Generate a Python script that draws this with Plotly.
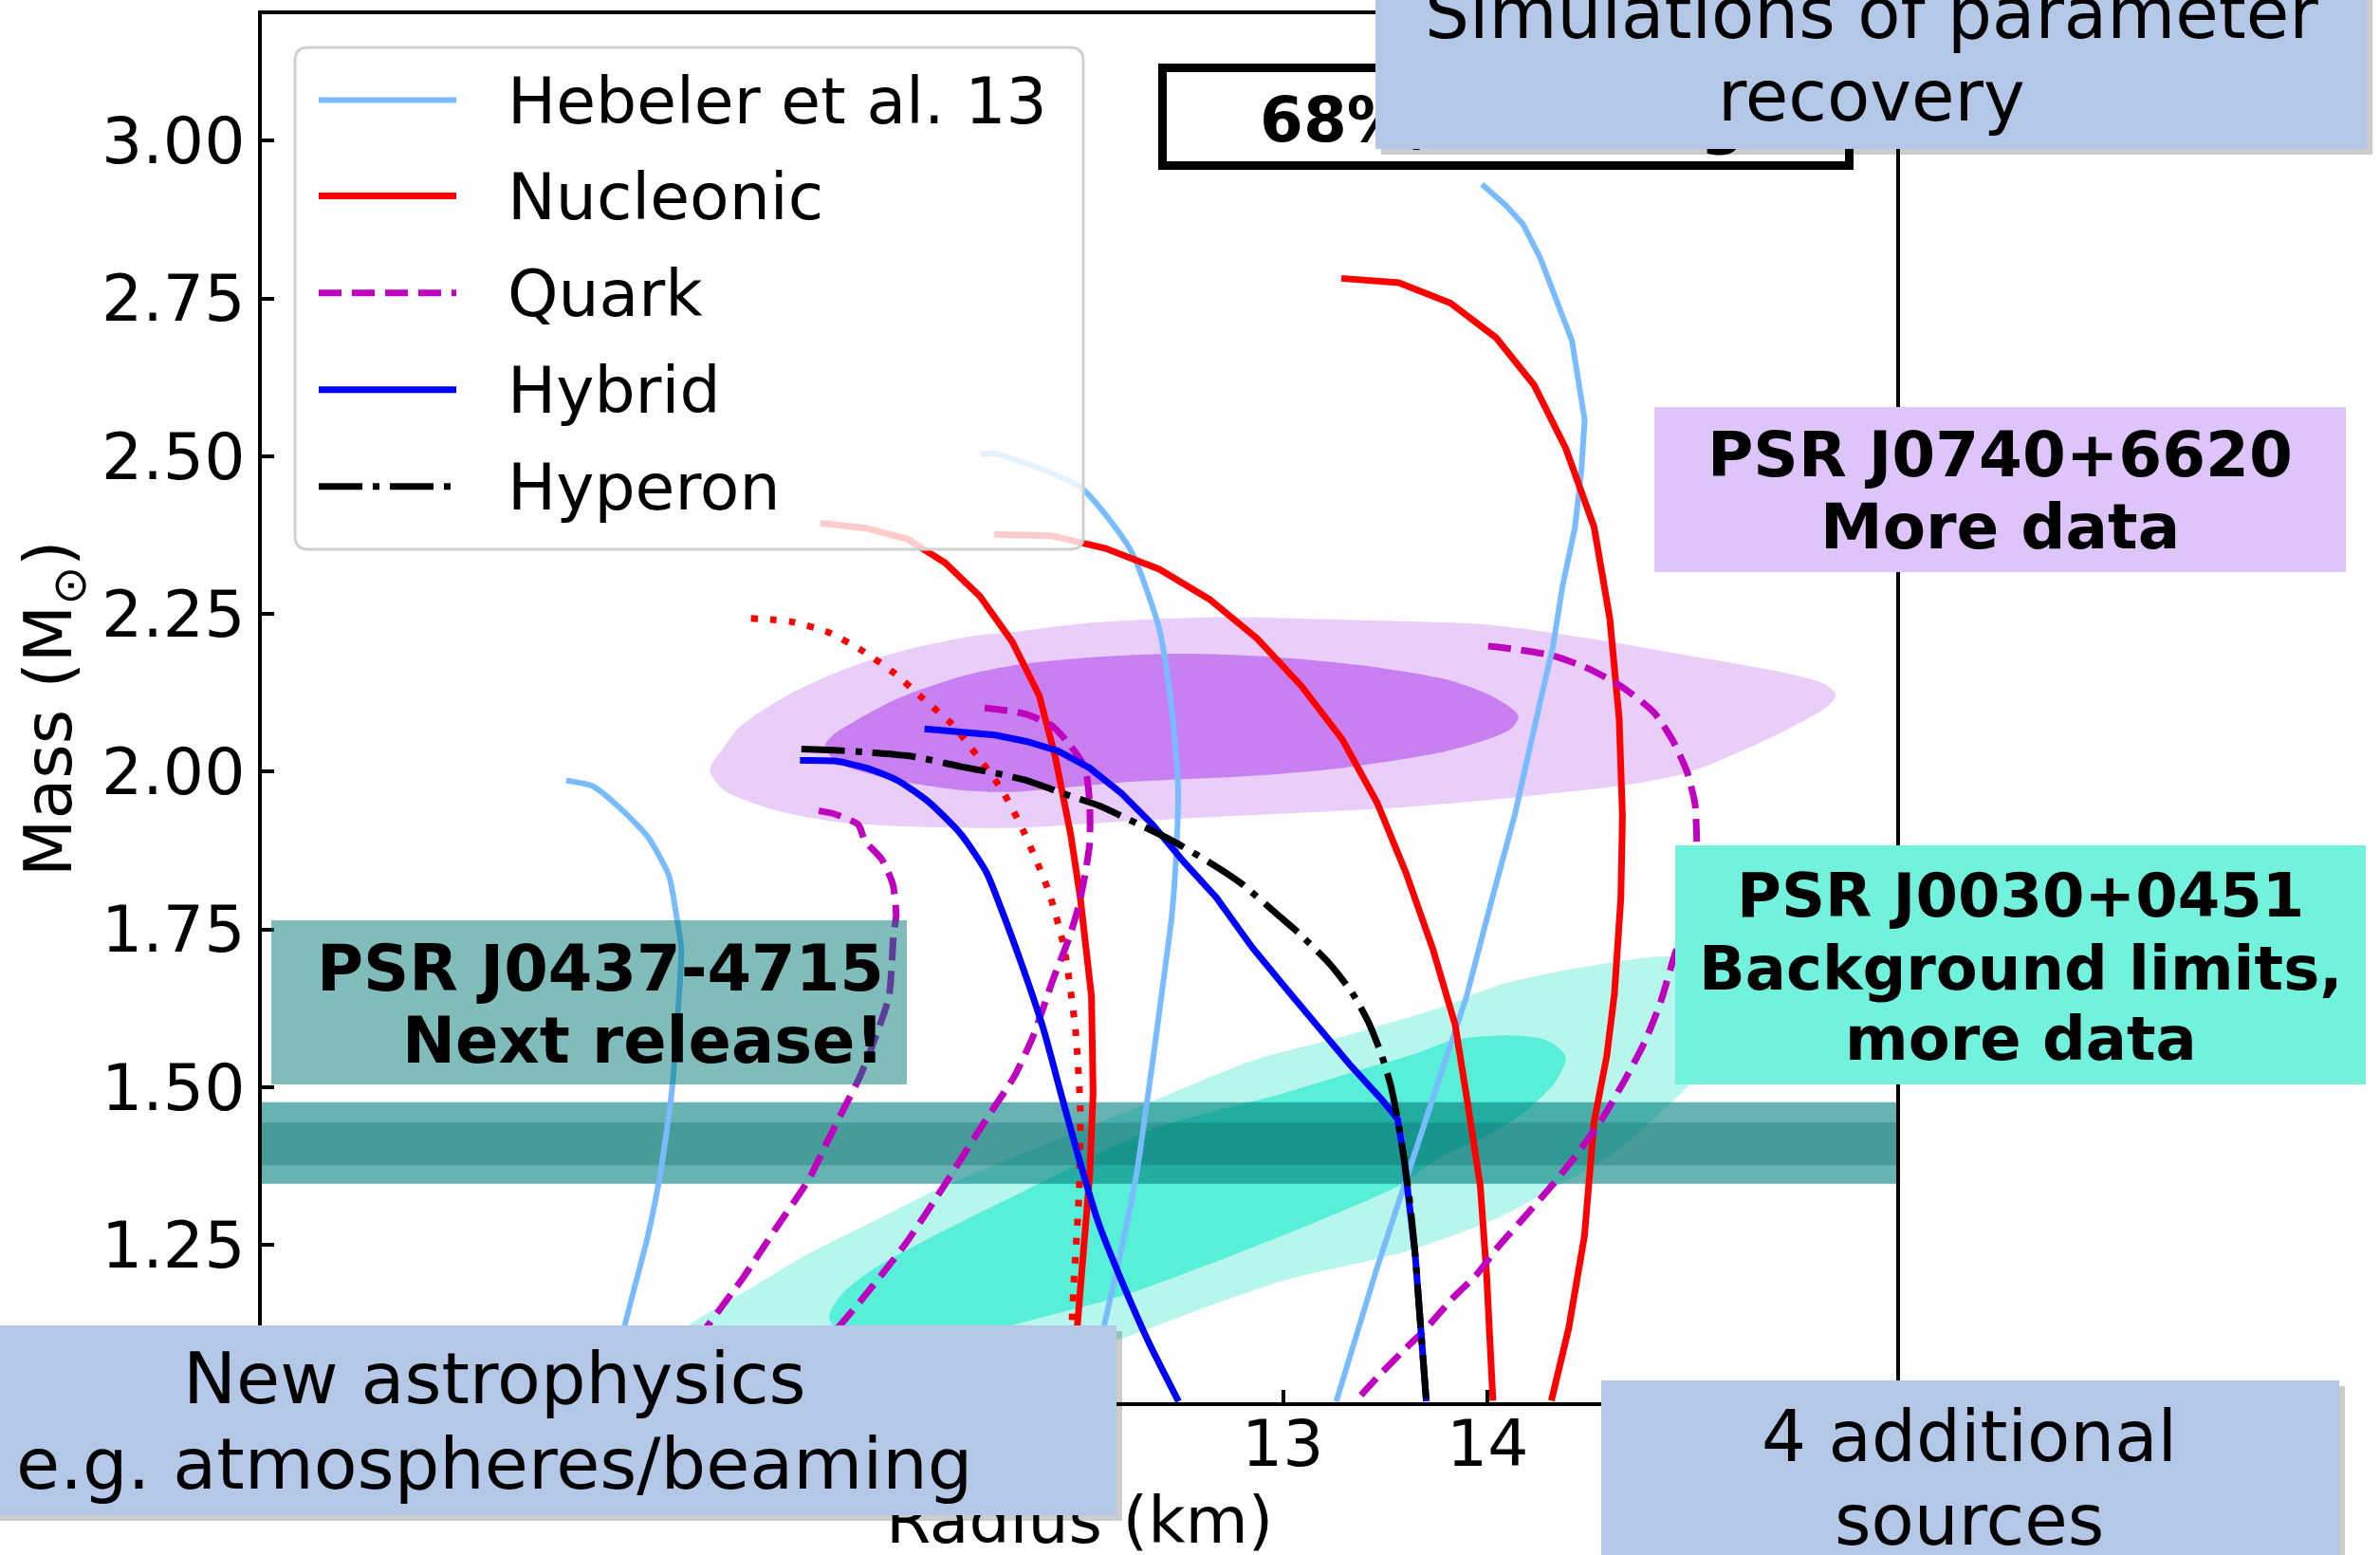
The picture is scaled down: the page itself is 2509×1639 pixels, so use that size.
import plotly.graph_objects as go

W, H = 2509, 1639
FONT = "DejaVu Sans"

# ---------------- data (Radius km, Mass Msun) ----------------
heb_soft_R = [9.490, 9.621, 9.768, 9.891, 9.992, 10.030, 10.053, 10.037, 10.006, 9.951, 9.888, 9.778, 9.700]
heb_soft_M = [1.986, 1.977, 1.938, 1.896, 1.836, 1.771, 1.720, 1.619, 1.491, 1.364, 1.262, 1.124, 1.000]
heb_mid_R = [11.518, 11.588, 12.006, 12.253, 12.393, 12.454, 12.485, 12.477, 12.454, 12.424, 12.361, 12.282, 12.203, 12.124, 12.036]
heb_mid_M = [2.503, 2.504, 2.451, 2.351, 2.226, 2.101, 1.976, 1.876, 1.771, 1.695, 1.542, 1.364, 1.236, 1.124, 1.000]
heb_stiff_R = [13.972, 14.088, 14.173, 14.258, 14.413, 14.475, 14.459, 14.428, 14.366, 14.320, 14.235, 14.134, 14.018, 13.897, 13.637, 13.456, 13.259]
heb_stiff_M = [2.931, 2.898, 2.868, 2.814, 2.683, 2.558, 2.478, 2.388, 2.293, 2.199, 2.079, 1.933, 1.794, 1.644, 1.389, 1.211, 1.002]

nuc1_R = [10.734, 10.958, 11.159, 11.345, 11.515, 11.673, 11.805, 11.882, 11.959, 12.006, 12.061, 12.069, 12.053, 12.022, 11.990, 11.961]
nuc1_M = [2.394, 2.386, 2.369, 2.331, 2.278, 2.206, 2.121, 2.026, 1.901, 1.801, 1.644, 1.491, 1.363, 1.236, 1.124, 1.000]
nuc2_R = [11.584, 11.867, 12.130, 12.393, 12.640, 12.872, 13.088, 13.289, 13.459, 13.599, 13.732, 13.841, 13.902, 13.964, 13.995, 14.026]
nuc2_M = [2.376, 2.374, 2.354, 2.321, 2.273, 2.211, 2.136, 2.051, 1.951, 1.841, 1.719, 1.599, 1.475, 1.344, 1.204, 1.003]
nuc3_R = [13.284, 13.565, 13.817, 14.041, 14.227, 14.382, 14.521, 14.598, 14.644, 14.660, 14.652, 14.621, 14.583, 14.521, 14.474, 14.397, 14.312]
nuc3_M = [2.782, 2.775, 2.743, 2.688, 2.613, 2.513, 2.388, 2.243, 2.084, 1.929, 1.799, 1.649, 1.549, 1.445, 1.264, 1.118, 1.003]
nucdot_R = [10.394, 10.587, 10.773, 10.943, 11.097, 11.236, 11.376, 11.500, 11.623, 11.728, 11.851, 11.927, 11.982, 12.006, 12.001, 11.974, 11.947]
nucdot_M = [2.243, 2.238, 2.221, 2.191, 2.156, 2.116, 2.076, 2.026, 1.971, 1.906, 1.811, 1.721, 1.593, 1.466, 1.338, 1.185, 1.000]

qk1_R = [10.726, 10.804, 10.920, 10.951, 11.035, 11.089, 11.105, 11.093, 11.070, 10.991, 10.928, 10.849, 10.770, 10.676, 10.518, 10.360, 10.187, 9.910]
qk1_M = [1.938, 1.933, 1.916, 1.891, 1.861, 1.821, 1.771, 1.746, 1.644, 1.568, 1.517, 1.466, 1.415, 1.353, 1.277, 1.200, 1.124, 1.000]
qk2_R = [11.538, 11.669, 11.743, 11.867, 11.959, 12.029, 12.052, 12.052, 12.029, 11.998, 11.951, 11.872, 11.778, 11.683, 11.527, 11.338, 11.149, 10.928, 10.834, 10.507]
qk2_M = [2.101, 2.096, 2.091, 2.073, 2.041, 2.006, 1.951, 1.886, 1.836, 1.787, 1.736, 1.670, 1.583, 1.517, 1.440, 1.343, 1.251, 1.160, 1.124, 1.000]
qk3_R = [14.003, 14.134, 14.320, 14.490, 14.660, 14.814, 14.907, 14.977, 15.015, 15.023, 15.024, 14.982, 14.915, 14.846, 14.768, 14.676, 14.551, 14.428, 14.304, 14.180, 14.057, 13.949, 13.825, 13.686, 13.621, 13.480, 13.353]
qk3_M = [2.199, 2.194, 2.184, 2.164, 2.134, 2.094, 2.049, 1.999, 1.949, 1.899, 1.842, 1.774, 1.709, 1.634, 1.571, 1.514, 1.445, 1.390, 1.340, 1.294, 1.249, 1.204, 1.164, 1.113, 1.093, 1.047, 1.002]

hyb1_R = [10.634, 10.804, 10.958, 11.113, 11.268, 11.422, 11.546, 11.620, 11.730, 11.825, 11.919, 11.998, 12.093, 12.219, 12.345, 12.487]
hyb1_M = [2.018, 2.017, 2.006, 1.986, 1.951, 1.901, 1.841, 1.782, 1.685, 1.593, 1.481, 1.389, 1.287, 1.185, 1.093, 1.002]
hyb2_R = [11.244, 11.588, 11.743, 11.897, 12.052, 12.207, 12.361, 12.516, 12.671, 12.849, 13.007, 13.165, 13.322, 13.480, 13.551, 13.559, 13.590, 13.621, 13.645, 13.669, 13.700]
hyb2_M = [2.068, 2.058, 2.048, 2.033, 2.006, 1.966, 1.916, 1.856, 1.801, 1.721, 1.659, 1.598, 1.537, 1.481, 1.455, 1.450, 1.389, 1.313, 1.236, 1.134, 1.002]

hyp_R = [10.641, 10.804, 10.958, 11.190, 11.422, 11.588, 11.743, 11.944, 12.099, 12.284, 12.454, 12.640, 12.794, 12.980, 13.070, 13.228, 13.338, 13.417, 13.480, 13.527, 13.559, 13.590, 13.621, 13.645, 13.669, 13.700]
hyp_M = [2.036, 2.034, 2.031, 2.024, 2.008, 1.998, 1.986, 1.963, 1.946, 1.918, 1.891, 1.856, 1.823, 1.771, 1.746, 1.695, 1.649, 1.603, 1.552, 1.501, 1.450, 1.389, 1.313, 1.236, 1.134, 1.002]

# PSR J0740+6620 credible regions
j0740_95_R = [10.193, 10.260, 10.340, 10.572, 10.881, 11.190, 11.499, 11.669, 12.052, 12.671, 13.289, 14.000, 14.521, 14.985, 15.449, 15.649, 15.704, 15.665, 15.449, 15.217, 14.985, 14.676, 14.212, 13.593, 12.825, 12.207, 11.669, 11.190, 10.804, 10.494, 10.262, 10.193]
j0740_95_M = [2.003, 2.038, 2.071, 2.121, 2.166, 2.196, 2.216, 2.221, 2.236, 2.245, 2.241, 2.233, 2.210, 2.184, 2.157, 2.139, 2.122, 2.104, 2.064, 2.029, 1.999, 1.979, 1.962, 1.944, 1.931, 1.921, 1.911, 1.913, 1.921, 1.941, 1.971, 2.003]
j0740_68_R = [10.757, 10.796, 10.881, 11.113, 11.422, 11.669, 12.052, 12.516, 12.980, 13.444, 13.825, 14.026, 14.150, 14.119, 13.979, 13.748, 13.289, 12.825, 12.207, 11.669, 11.422, 11.113, 10.881, 10.787, 10.757]
j0740_68_M = [2.041, 2.058, 2.076, 2.116, 2.151, 2.168, 2.181, 2.187, 2.181, 2.166, 2.144, 2.119, 2.089, 2.069, 2.049, 2.029, 2.006, 1.993, 1.983, 1.968, 1.971, 1.986, 2.006, 2.023, 2.041]

# PSR J0030+0451 credible regions
j0030_95_R = [10.093, 10.360, 10.676, 10.991, 11.306, 11.716, 12.376, 12.849, 13.322, 13.795, 14.057, 14.443, 14.907, 15.062, 15.108, 15.062, 14.985, 14.830, 14.676, 14.521, 14.289, 14.057, 13.593, 13.007, 12.534, 12.187, 11.821, 10.889, 10.143, 9.957, 10.093]
j0030_95_M = [1.124, 1.175, 1.236, 1.287, 1.338, 1.394, 1.480, 1.542, 1.583, 1.629, 1.662, 1.689, 1.707, 1.691, 1.631, 1.541, 1.503, 1.455, 1.410, 1.375, 1.334, 1.294, 1.239, 1.194, 1.141, 1.099, 1.065, 1.035, 1.058, 1.088, 1.124]
j0030_68_R = [10.778, 10.834, 10.991, 11.306, 11.716, 12.376, 13.007, 13.322, 13.637, 13.825, 14.104, 14.289, 14.382, 14.335, 14.180, 13.979, 13.748, 13.590, 13.165, 12.691, 12.219, 11.746, 11.355, 10.889, 10.778]
j0030_68_M = [1.134, 1.170, 1.211, 1.267, 1.333, 1.435, 1.491, 1.522, 1.552, 1.574, 1.582, 1.574, 1.549, 1.510, 1.460, 1.420, 1.385, 1.348, 1.287, 1.226, 1.170, 1.129, 1.096, 1.096, 1.134]

# PSR J0437-4715 mass band
j0437_95 = [1.347, 1.476]
j0437_68 = [1.376, 1.444]

x_ticks = [8, 9, 10, 11, 12, 13, 14, 15, 16]
y_ticks = [1.00, 1.25, 1.50, 1.75, 2.00, 2.25, 2.50, 2.75, 3.00]

legend_labels = ["Hebeler et al. 13", "Nucleonic", "Quark", "Hybrid", "Hyperon"]

# ---------------- styles ----------------
C_HEB = "#79bbff"
C_NUC = "#ff0000"
C_QK = "#bf00bf"
C_HYB = "#0000ff"
C_HYP = "#000000"
DASH_QK = "24px,11px"
DASH_DOT = "7px,13px"
DASH_HYP = "46px,11px,7px,11px"

fig = go.Figure()


def fill_region(R, M, color):
    fig.add_trace(go.Scatter(x=R, y=M, mode="lines", fill="toself", fillcolor=color,
                             line=dict(width=0, color=color, shape="spline", smoothing=0.8),
                             hoverinfo="skip", showlegend=False))


def curve(R, M, color, width=7, dash="solid", shape="linear"):
    fig.add_trace(go.Scatter(x=R, y=M, mode="lines",
                             line=dict(color=color, width=width, dash=dash, shape=shape, smoothing=0.6),
                             hoverinfo="skip", showlegend=False))


fill_region(j0740_95_R, j0740_95_M, "#e8cef8")
fill_region(j0740_68_R, j0740_68_M, "#c880f1")
fill_region(j0030_95_R, j0030_95_M, "#b6f6ec")
fill_region(j0030_68_R, j0030_68_M, "#57efd8")

# J0437 band
for (lo, hi), col in [(j0437_95, "rgba(0,128,125,0.6)"), (j0437_68, "rgba(0,100,98,0.3)")]:
    fig.add_trace(go.Scatter(x=[x_ticks[0], x_ticks[-1], x_ticks[-1], x_ticks[0], x_ticks[0]],
                             y=[lo, lo, hi, hi, lo], mode="lines", fill="toself", fillcolor=col,
                             line=dict(width=0), hoverinfo="skip", showlegend=False))

curve(heb_soft_R, heb_soft_M, C_HEB, 6, shape="spline")
curve(heb_mid_R, heb_mid_M, C_HEB, 6, shape="spline")
curve(heb_stiff_R, heb_stiff_M, C_HEB, 6)
curve(nuc1_R, nuc1_M, C_NUC, 7)
curve(nuc2_R, nuc2_M, C_NUC, 7)
curve(nuc3_R, nuc3_M, C_NUC, 7)
curve(nucdot_R, nucdot_M, C_NUC, 7, DASH_DOT, "spline")
curve(qk1_R, qk1_M, C_QK, 7, DASH_QK, "spline")
curve(qk2_R, qk2_M, C_QK, 7, DASH_QK, "spline")
curve(qk3_R, qk3_M, C_QK, 7, DASH_QK, "spline")
curve(hyb1_R, hyb1_M, C_HYB, 7, shape="spline")
curve(hyb2_R, hyb2_M, C_HYB, 7)
curve(hyp_R, hyp_M, C_HYP, 7, DASH_HYP, "spline")


# ---------------- helpers for paper-pixel positioning ----------------
def px(x):
    return x / W


def py(y):
    return 1 - y / H


shapes = []
annotations = []

# x tick labels (positioned on the x scale)
for v in x_ticks:
    annotations.append(dict(text=str(v), x=v, y=py(1521), xref="x", yref="paper", xanchor="center",
                            yanchor="middle", showarrow=False, font=dict(family=FONT, size=68, color="black")))

# legend (manual, matplotlib-like)
lx0, ly0, lx1, ly1, rr = 311, 50, 1142, 579, 14
path = (f"M {px(lx0+rr)},{py(ly0)} L {px(lx1-rr)},{py(ly0)} Q {px(lx1)},{py(ly0)} {px(lx1)},{py(ly0+rr)} "
        f"L {px(lx1)},{py(ly1-rr)} Q {px(lx1)},{py(ly1)} {px(lx1-rr)},{py(ly1)} "
        f"L {px(lx0+rr)},{py(ly1)} Q {px(lx0)},{py(ly1)} {px(lx0)},{py(ly1-rr)} "
        f"L {px(lx0)},{py(ly0+rr)} Q {px(lx0)},{py(ly0)} {px(lx0+rr)},{py(ly0)} Z")
shapes.append(dict(type="path", xref="paper", yref="paper", path=path, layer="above",
                   fillcolor="rgba(255,255,255,0.8)", line=dict(color="#d0d0d0", width=3)))
leg_styles = [(C_HEB, 6, "solid"), (C_NUC, 7, "solid"), (C_QK, 7, DASH_QK), (C_HYB, 7, "solid"), (C_HYP, 7, DASH_HYP)]
row_y = [105.6, 206.6, 308.7, 410.7, 512.8]
for lab, (col, wid, dsh), ry in zip(legend_labels, leg_styles, row_y):
    shapes.append(dict(type="line", xref="paper", yref="paper", x0=px(336), x1=px(481), y0=py(ry), y1=py(ry),
                       layer="above", line=dict(color=col, width=wid, dash=dsh)))
    annotations.append(dict(text=lab, x=px(533), y=py(ry + 0.5), xref="paper", yref="paper", xanchor="left",
                            yanchor="middle", showarrow=False, font=dict(family=FONT, size=68, color="black")))


def box(x0, y0, x1, y1, color, bw=0, bc="black"):
    annotations.append(dict(text="\u00a0", x=px(x0), y=py(y0), xref="paper", yref="paper", xanchor="left",
                            yanchor="top", width=x1 - x0 - 2 * bw, height=y1 - y0 - 2 * bw, bgcolor=color,
                            borderpad=0, borderwidth=bw, bordercolor=bc, showarrow=False,
                            font=dict(size=10)))


def text(s, x, y, size, bold=False, anchor="center"):
    annotations.append(dict(text=f"<b>{s}</b>" if bold else s, x=px(x), y=py(y), xref="paper", yref="paper",
                            xanchor=anchor, yanchor="middle", showarrow=False,
                            font=dict(family=FONT, size=size, color="black")))


LB = "#b4c7e7"
SH = "rgba(0,0,0,0.2)"

# axis titles
text("Radius (km)", 1137.5, 1602, 68)
annotations.append(dict(text="Mass (M<sub>⊙</sub>)", x=px(56), y=py(747), xref="paper", yref="paper",
                        xanchor="center", yanchor="middle", textangle=-90, showarrow=False,
                        font=dict(family=FONT, size=70, color="black")))

# 68% box
box(1221, 67, 1954, 179, "white", bw=9)
text("68%, 95% regions", 1326, 127, 66, bold=True, anchor="left")

# Simulations box
box(1456, -100, 2501, 163, SH)
box(1450, -106, 2495, 157, LB)
text("Simulations of parameter", 1973, 14, 74)
text("recovery", 1973, 101, 74)

# PSR J0740+6620
box(1744, 429, 2473, 603, "#ddc4fa")
text("PSR J0740+6620", 2108, 479, 66, bold=True)
text("More data", 2108, 555, 66, bold=True)

# PSR J0030+0451
box(1766, 891, 2494, 1143, "#72f1dc")
text("PSR J0030+0451", 2130, 944, 64, bold=True)
text("Background limits,", 2130, 1021, 64, bold=True)
text("more data", 2130, 1095, 64, bold=True)

# PSR J0437-4715
box(286, 970, 956, 1143, "rgba(0,122,118,0.5)")
text("PSR J0437-4715", 934, 1021, 67, bold=True, anchor="right")
text("Next release!", 934, 1097, 67, bold=True, anchor="right")

# New astrophysics
box(-129, 1403, 1183, 1603, SH)
box(-135, 1397, 1177, 1597, LB)
text("New astrophysics", 521, 1453, 75)
text("e.g. atmospheres/beaming", 521, 1543, 75)

# 4 additional sources
box(1694, 1461, 2472, 1720, SH)
box(1688, 1455, 2466, 1714, LB)
text("4 additional", 2076, 1514, 74)
text("sources", 2076, 1602, 74)

axis_common = dict(showgrid=False, zeroline=False, showline=True, linecolor="black", linewidth=4, mirror=True,
                   ticks="inside", ticklen=13, tickwidth=4, tickcolor="black", automargin=False,
                   tickfont=dict(family=FONT, size=68, color="black"))

fig.update_layout(
    width=W, height=H, margin=dict(l=0, r=0, t=0, b=0, pad=0, autoexpand=False),
    paper_bgcolor="white", plot_bgcolor="white", showlegend=False,
    font=dict(family=FONT, color="black"),
    xaxis=dict(range=[8, 16], domain=[276 / W, 1999 / W], tickvals=x_ticks, showticklabels=False,
               **axis_common),
    yaxis=dict(range=[1.0, 3.2], domain=[1 - 1478.4 / H, 1 - 15.4 / H], tickvals=y_ticks,
               ticktext=[f"{v:.2f}" for v in y_ticks], ticklabelstandoff=0, **axis_common),
    shapes=shapes, annotations=annotations,
)

fig.write_html("out.html")
